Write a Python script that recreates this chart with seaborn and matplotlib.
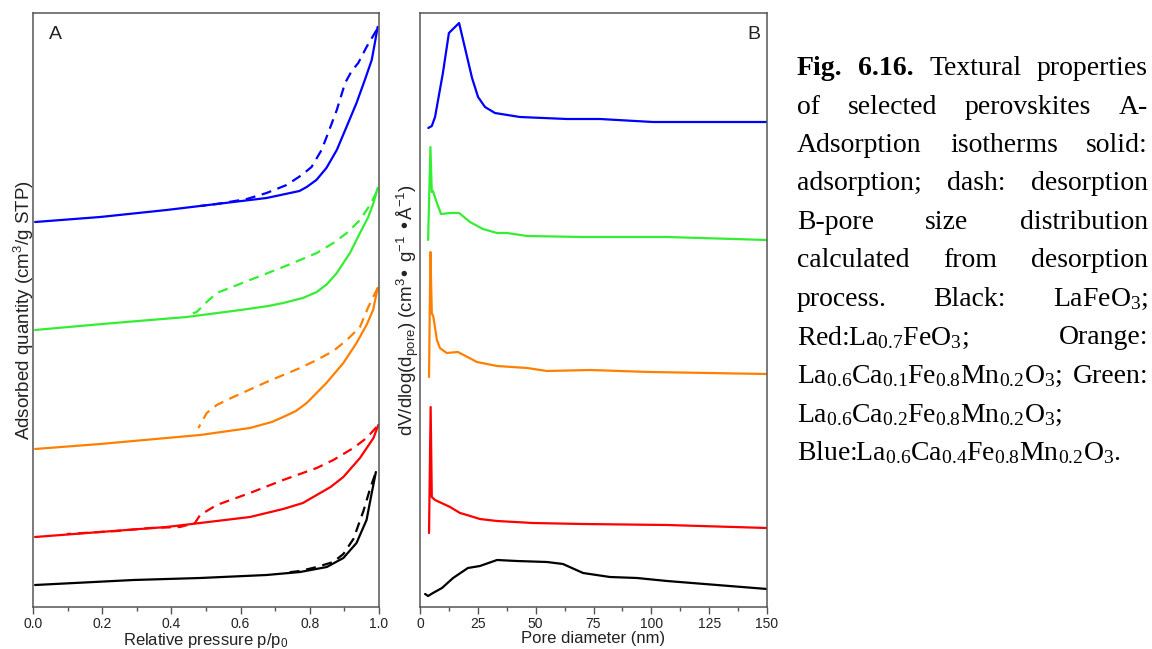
import numpy as np
import matplotlib
matplotlib.use('Agg')
import matplotlib.pyplot as plt
import seaborn as sns
from matplotlib.ticker import MultipleLocator, FormatStrFormatter

sns.set_theme(style='ticks')
plt.rcParams['font.family'] = ['Liberation Sans', 'DejaVu Sans']
plt.rcParams['mathtext.default'] = 'regular'

# --- A: isotherms (relative pressure, adsorbed quantity in a.u., curves stacked) ---
black_ads_p = [0.006, 0.290, 0.483, 0.675, 0.772, 0.849, 0.897, 0.935, 0.964, 0.979, 0.991]
black_ads_q = [22, 27, 29, 32, 35, 40, 49, 64, 87, 114, 135]
black_des_p = [0.988, 0.974, 0.955, 0.926, 0.897, 0.868, 0.820, 0.772, 0.723]
black_des_q = [132, 118, 96, 68, 53, 45, 40, 36, 34]

red_ads_p = [0.006, 0.194, 0.386, 0.483, 0.627, 0.723, 0.780, 0.820, 0.860, 0.897, 0.945, 0.984, 0.998]
red_ads_q = [70, 75, 80, 84, 90, 98, 104, 112, 120, 130, 149, 169, 182]
red_des_p = [0.993, 0.964, 0.926, 0.868, 0.820, 0.723, 0.627, 0.531, 0.483, 0.468, 0.425, 0.338, 0.242, 0.145, 0.098]
red_des_q = [180, 169, 159, 147, 139, 127, 114, 102, 92, 84, 80, 79, 76, 74, 73]

orange_ads_p = [0.006, 0.194, 0.386, 0.483, 0.627, 0.690, 0.723, 0.760, 0.791, 0.848, 0.897, 0.935, 0.964, 0.983, 0.996]
orange_ads_q = [158, 163, 169, 172, 179, 185, 190, 196, 204, 224, 244, 264, 282, 297, 319]
orange_des_p = [0.996, 0.969, 0.945, 0.907, 0.868, 0.820, 0.772, 0.675, 0.579, 0.531, 0.502, 0.478]
orange_des_q = [319, 300, 280, 267, 256, 247, 239, 225, 210, 202, 194, 179]

green_ads_p = [0.006, 0.200, 0.444, 0.600, 0.680, 0.723, 0.780, 0.820, 0.850, 0.878, 0.916, 0.945, 0.969, 0.984, 0.996]
green_ads_q = [277, 283, 290, 297, 301, 304, 309, 315, 323, 334, 354, 374, 390, 404, 419]
green_des_p = [0.993, 0.974, 0.945, 0.907, 0.868, 0.820, 0.772, 0.723, 0.627, 0.531, 0.502, 0.473, 0.449]
green_des_q = [415, 402, 387, 374, 364, 354, 347, 340, 327, 314, 305, 295, 292]

blue_ads_p = [0.006, 0.194, 0.386, 0.579, 0.675, 0.743, 0.770, 0.791, 0.819, 0.848, 0.878, 0.906, 0.935, 0.959, 0.979, 0.988, 0.996]
blue_ads_q = [385, 390, 397, 405, 409, 414, 416, 420, 427, 439, 457, 480, 504, 527, 547, 564, 580]
blue_des_p = [0.993, 0.964, 0.940, 0.921, 0.902, 0.878, 0.853, 0.834, 0.805, 0.777, 0.733, 0.675, 0.618, 0.531, 0.483]
blue_des_q = [577, 560, 544, 536, 524, 497, 474, 457, 440, 432, 422, 414, 408, 403, 401]

# --- B: pore size distribution (pore diameter nm, dV/dlogD in a.u., stacked) ---
black_d = [2.2, 3.5, 5.6, 9.5, 14.3, 20.7, 25.9, 33.3, 41.9, 54.9, 61.8, 70.5, 82.1, 93.8, 106.8, 128.4, 150]
black_v = [13, 11, 14, 19, 29, 39, 41, 47, 46, 45, 43, 34, 30, 29, 26, 22, 18]
red_d = [3.9, 4.6, 5.1, 6.5, 13.0, 17.3, 20.3, 25.9, 33.3, 48.8, 70.5, 106.8, 150]
red_v = [74, 200, 110, 107, 100, 94, 92, 88, 86, 84, 83, 82, 79]
orange_d = [3.9, 4.5, 5.1, 5.8, 7.3, 8.6, 11.5, 16.4, 24.6, 33.3, 46.3, 54.9, 73.5, 99.4, 150]
orange_v = [230, 355, 294, 290, 267, 259, 254, 255, 245, 241, 239, 236, 237, 235, 233]
green_d = [3.5, 4.5, 5.1, 5.6, 7.3, 9.1, 13.0, 16.9, 21.6, 27.2, 33.3, 37.6, 46.3, 70.5, 106.8, 150]
green_v = [367, 460, 415, 416, 404, 393, 394, 394, 385, 378, 374, 374, 371, 370, 370, 367]
blue_d = [3.6, 5.1, 6.5, 9.9, 12.5, 16.9, 22.5, 25.1, 28.1, 32.4, 43.2, 63.5, 77.8, 100.7, 121.0, 150]
blue_v = [479, 481, 490, 534, 574, 584, 529, 510, 500, 494, 490, 488, 488, 485, 485, 485]

colors = {'black': '#000000', 'red': '#ff0000', 'orange': '#ff8000', 'green': '#33ee33', 'blue': '#0000ff'}

isotherms = {
    'black': (black_ads_p, black_ads_q, black_des_p, black_des_q),
    'red': (red_ads_p, red_ads_q, red_des_p, red_des_q),
    'orange': (orange_ads_p, orange_ads_q, orange_des_p, orange_des_q),
    'green': (green_ads_p, green_ads_q, green_des_p, green_des_q),
    'blue': (blue_ads_p, blue_ads_q, blue_des_p, blue_des_q),
}
psd = {
    'black': (black_d, black_v),
    'red': (red_d, red_v),
    'orange': (orange_d, orange_v),
    'green': (green_d, green_v),
    'blue': (blue_d, blue_v),
}

caption_lines = [
    [('Fig.', 'bold'), ('6.16.', 'bold'), ('Textural', 'normal'), ('properties', 'normal')],
    [('of', 'normal'), ('selected', 'normal'), ('perovskites', 'normal'), ('A-', 'normal')],
    [('Adsorption', 'normal'), ('isotherms', 'normal'), ('solid:', 'normal')],
    [('adsorption;', 'normal'), ('dash:', 'normal'), ('desorption', 'normal')],
    [('B-pore', 'normal'), ('size', 'normal'), ('distribution', 'normal')],
    [('calculated', 'normal'), ('from', 'normal'), ('desorption', 'normal')],
    [('process.', 'normal'), ('Black:', 'normal'), (r'LaFeO$_{3}$;', 'normal')],
    [(r'Red:La$_{0.7}$FeO$_{3}$;', 'normal'), ('Orange:', 'normal')],
    [(r'La$_{0.6}$Ca$_{0.1}$Fe$_{0.8}$Mn$_{0.2}$O$_{3}$;', 'normal'), ('Green:', 'normal')],
    [(r'La$_{0.6}$Ca$_{0.2}$Fe$_{0.8}$Mn$_{0.2}$O$_{3}$;', 'normal')],
    [(r'Blue:La$_{0.6}$Ca$_{0.4}$Fe$_{0.8}$Mn$_{0.2}$O$_{3}$.', 'normal')],
]
justified = [True] * 9 + [False, False]

W, H = 1152, 649
fig = plt.figure(figsize=(W / 100, H / 100), dpi=100)
axA = fig.add_axes([33 / W, 1 - 607 / H, 346 / W, 594 / H])
axB = fig.add_axes([420 / W, 1 - 607 / H, 347 / W, 594 / H])

dash = (0, (4.5, 3))
for name, (ap, aq, dp, dq) in isotherms.items():
    sns.lineplot(x=ap, y=aq, ax=axA, color=colors[name], sort=False, estimator=None, lw=1.6)
    sns.lineplot(x=dp, y=dq, ax=axA, color=colors[name], sort=False, estimator=None, lw=1.6, linestyle=dash)

for name, (d, v) in psd.items():
    sns.lineplot(x=d, y=v, ax=axB, color=colors[name], sort=False, estimator=None, lw=1.6)

spine_col = '#555555'
for ax in (axA, axB):
    ax.set_ylim(0, 594)
    ax.set_yticks([])
    for s in ax.spines.values():
        s.set_visible(True)
        s.set_color(spine_col)
        s.set_linewidth(1.1)
    ax.tick_params(axis='x', which='major', length=5, width=1, color=spine_col,
                   labelsize=10, labelcolor='#222222', pad=2)
    ax.tick_params(axis='x', which='minor', length=3, width=1, color=spine_col)
    ax.tick_params(axis='y', which='both', length=0)

axA.set_xlim(0, 1)
axA.xaxis.set_major_locator(MultipleLocator(0.2))
axA.xaxis.set_minor_locator(MultipleLocator(0.1))
axA.xaxis.set_major_formatter(FormatStrFormatter('%.1f'))
axB.set_xlim(0, 150)
axB.xaxis.set_major_locator(MultipleLocator(25))
axB.xaxis.set_minor_locator(MultipleLocator(12.5))

axA.set_xlabel(r'Relative pressure p/p$_{0}$', fontsize=12, color='#222222', labelpad=0)
axA.set_ylabel(r'Adsorbed quantity (cm$^{3}$/g STP)', fontsize=13.5, color='#222222', labelpad=-2)
axB.set_xlabel('Pore diameter (nm)', fontsize=12, color='#222222', labelpad=0)
axB.set_ylabel(r'dV/dlog(d$_{pore}$) (cm$^{3}$• g$^{-1}$ •Å$^{-1}$)', fontsize=13.5, color='#222222', labelpad=-1)

axA.text(0.065, 0.978, 'A', transform=axA.transAxes, fontsize=14, ha='center', va='top', color='#222222')
axB.text(0.963, 0.978, 'B', transform=axB.transAxes, fontsize=14, ha='center', va='top', color='#222222')

# caption, set as justified text on the right
renderer = fig.canvas.get_renderer()
left_px, right_px = 797, 1148
base0, step = 75, 38.5
for i, words in enumerate(caption_lines):
    y = 1 - (base0 + i * step) / H
    texts = [fig.text(0, y, w, fontsize=20, fontweight=wt, family=['Liberation Serif', 'DejaVu Serif'],
                      va='baseline', ha='left', color='black') for w, wt in words]
    widths = [t.get_window_extent(renderer).width for t in texts]
    if justified[i] and len(texts) > 1:
        gap = (right_px - left_px - sum(widths)) / (len(texts) - 1)
    else:
        gap = 7
    x = left_px
    for t, w in zip(texts, widths):
        t.set_x(x / W)
        x += w + gap

fig.savefig('out.png', dpi=100)
